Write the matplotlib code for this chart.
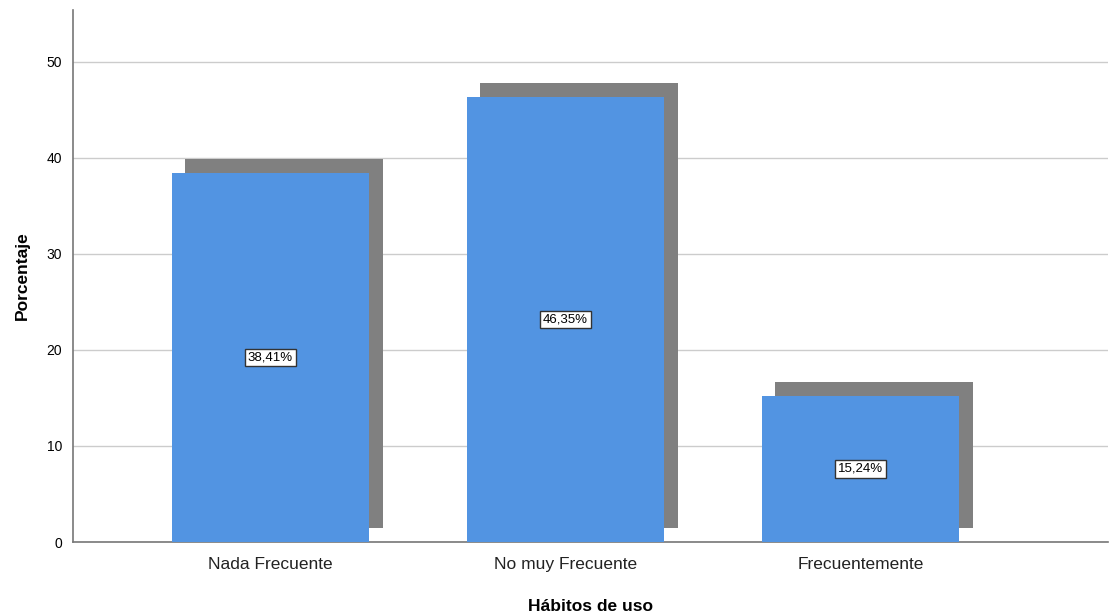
import numpy as np
import matplotlib
matplotlib.use("Agg")
import matplotlib.pyplot as plt
from matplotlib.transforms import ScaledTranslation

plt.rcParams['font.family'] = ['Liberation Sans', 'DejaVu Sans']

categorias = ["Nada Frecuente", "No muy Frecuente", "Frecuentemente"]
porcentajes = [38.41, 46.35, 15.24]
etiquetas = ["38,41%", "46,35%", "15,24%"]
yticks = [0, 10, 20, 30, 40, 50]

fig = plt.figure(figsize=(11.11, 6.16), dpi=100)
ax = fig.add_axes([0.0657, 0.1201, 0.9316, 0.8637])

x = np.arange(len(categorias))
ancho = 0.668

# sombra desplazada hacia arriba y a la derecha
sombra = ax.transData + ScaledTranslation(0.135, 0.14, fig.dpi_scale_trans)
ax.bar(x, porcentajes, width=ancho, color="#808080", transform=sombra, zorder=2)
ax.bar(x, porcentajes, width=ancho, color="#5294E2", zorder=3)

for xi, v, t in zip(x, porcentajes, etiquetas):
    ax.text(xi, v / 2, t, ha="center", va="center", fontsize=9.5, zorder=4,
            bbox=dict(boxstyle="square,pad=0.22", fc="white", ec="#333333", lw=1.0))

ax.set_xlim(-0.6695, 2.839)
ax.set_ylim(0, 55.4)
ax.set_yticks(yticks)
ax.set_xticks(x)
ax.set_xticklabels(categorias, fontsize=12.5, color="#222222")
ax.tick_params(axis="y", length=0, labelsize=10, pad=8)
ax.tick_params(axis="x", length=0, pad=11)
ax.yaxis.grid(True, color="#cccccc", lw=1)
ax.set_axisbelow(True)

for s in ["top", "right"]:
    ax.spines[s].set_visible(False)
for s in ["left", "bottom"]:
    ax.spines[s].set_color("#777777")
    ax.spines[s].set_linewidth(1.2)

ax.set_xlabel("Hábitos de uso", fontsize=12.5, fontweight="bold", labelpad=19)
ax.set_ylabel("Porcentaje", fontsize=12.5, fontweight="bold", labelpad=12)

fig.savefig("out.png", dpi=100)
